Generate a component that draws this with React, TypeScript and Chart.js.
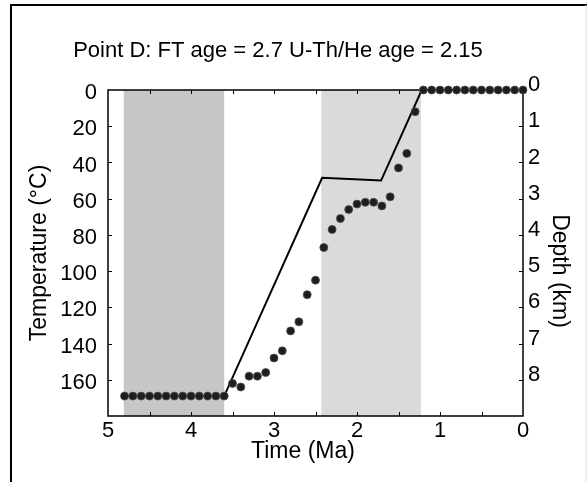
import { useEffect, useRef } from 'react';
import { Chart, registerables } from 'chart.js';

Chart.register(...registerables);

const TITLE = 'Point D: FT age = 2.7 U-Th/He age = 2.15';
const X_TITLE = 'Time (Ma)';
const Y_TITLE = 'Temperature (°C)';
const Y2_TITLE = 'Depth (km)';

// Modelled thermal history (dots)
const modelAgeMa = [
  4.8, 4.7, 4.6, 4.5, 4.4, 4.3, 4.2, 4.1, 4.0, 3.9, 3.8, 3.7, 3.6,
  3.5, 3.4, 3.3, 3.2, 3.1, 3.0, 2.9, 2.8, 2.7, 2.6, 2.5, 2.4, 2.3, 2.2, 2.1, 2.0,
  1.9, 1.8, 1.7, 1.6, 1.5, 1.4, 1.3,
  1.2, 1.1, 1.0, 0.9, 0.8, 0.7, 0.6, 0.5, 0.4, 0.3, 0.2, 0.1, 0.0,
];
const modelTempC = [
  169, 169, 169, 169, 169, 169, 169, 169, 169, 169, 169, 169, 169,
  162, 164, 158, 158, 156, 148, 144, 133, 128, 113, 105, 87, 77, 71, 66, 63,
  62, 62, 64, 59, 43, 35, 12,
  0, 0, 0, 0, 0, 0, 0, 0, 0, 0, 0, 0, 0,
];

// Burial / exhumation path (solid line)
const pathAgeMa = [4.8, 3.6, 2.42, 1.71, 1.22, 0];
const pathTempC = [169, 169, 48.5, 50, 0, 0];

// Shaded time windows
const bandStartMa = [4.81, 2.43];
const bandEndMa = [3.6, 1.23];
const bandColors = ['#c6c6c6', '#dadada'];

// Tick values
const xTickValues = [0, 0.5, 1, 1.5, 2, 2.5, 3, 3.5, 4, 4.5, 5];
const tempTickValues = [0, 20, 40, 60, 80, 100, 120, 140, 160];
const depthTickValues = [0, 1, 2, 3, 4, 5, 6, 7, 8];

const FONT = '"Liberation Sans", Arial, sans-serif';

const decorPlugin = {
  id: 'decor',
  beforeDraw(chart: any) {
    const { ctx, width, height } = chart;
    ctx.save();
    ctx.fillStyle = '#ffffff';
    ctx.fillRect(0, 0, width, height);
    ctx.strokeStyle = '#000';
    ctx.lineWidth = 2;
    ctx.beginPath();
    ctx.moveTo(11, height);
    ctx.lineTo(11, 5);
    ctx.lineTo(width, 5);
    ctx.stroke();
    ctx.strokeStyle = '#dddddd';
    ctx.lineWidth = 1;
    ctx.beginPath();
    ctx.moveTo(586, 5);
    ctx.lineTo(586, height);
    ctx.stroke();
    ctx.restore();
  },
  beforeDatasetsDraw(chart: any) {
    const { ctx, chartArea: a, scales } = chart;
    const x = scales.x;
    const y = scales.y;
    const y2 = scales.y2;
    ctx.save();
    for (let i = 0; i < bandStartMa.length; i++) {
      const p1 = x.getPixelForValue(bandStartMa[i]);
      const p2 = x.getPixelForValue(bandEndMa[i]);
      ctx.fillStyle = bandColors[i];
      ctx.fillRect(Math.min(p1, p2), a.top, Math.abs(p2 - p1), a.bottom - a.top);
    }
    ctx.strokeStyle = '#000';
    ctx.lineWidth = 1.5;
    ctx.strokeRect(a.left, a.top, a.right - a.left, a.bottom - a.top);
    ctx.lineWidth = 1;
    ctx.beginPath();
    const tl = 4;
    for (const v of xTickValues) {
      if (v === 0 || v === 5) continue;
      const px = Math.round(x.getPixelForValue(v)) + 0.5;
      ctx.moveTo(px, a.bottom);
      ctx.lineTo(px, a.bottom - tl);
      ctx.moveTo(px, a.top);
      ctx.lineTo(px, a.top + tl);
    }
    for (const v of tempTickValues) {
      if (v === 0) continue;
      const py = Math.round(y.getPixelForValue(v)) + 0.5;
      ctx.moveTo(a.left, py);
      ctx.lineTo(a.left + tl, py);
    }
    for (const v of depthTickValues) {
      if (v === 0) continue;
      const py = Math.round(y2.getPixelForValue(v)) + 0.5;
      ctx.moveTo(a.right, py);
      ctx.lineTo(a.right - tl, py);
    }
    ctx.stroke();
    ctx.restore();
  },
  afterDraw(chart: any) {
    const { ctx } = chart;
    ctx.save();
    ctx.fillStyle = '#000';
    ctx.font = '22px ' + FONT;
    ctx.textAlign = 'center';
    ctx.textBaseline = 'alphabetic';
    ctx.fillText(TITLE, 278, 57);

    ctx.font = '23px ' + FONT;
    ctx.textBaseline = 'middle';
    ctx.fillText(X_TITLE, 303, 452);

    ctx.translate(559, 271);
    ctx.rotate(Math.PI / 2);
    ctx.fillText(Y2_TITLE, 0, 0);
    ctx.restore();
  },
};

export default function App() {
  const ref = useRef<HTMLCanvasElement | null>(null);

  useEffect(() => {
    if (!ref.current) return;
    const tickFont = { family: FONT, size: 22 };
    const titleFont = { family: FONT, size: 23, lineHeight: 1.2 };
    const chart = new Chart(ref.current, {
      type: 'line',
      data: {
        datasets: [
          {
            type: 'line',
            label: 'model',
            data: modelAgeMa.map((a, i) => ({ x: a, y: modelTempC[i] })),
            showLine: false,
            pointRadius: 4,
            pointBackgroundColor: '#1e1e1e',
            pointBorderColor: '#505050',
            pointBorderWidth: 0.8,
            yAxisID: 'y',
            clip: false,
          },
          {
            type: 'line',
            label: 'path',
            data: pathAgeMa.map((a, i) => ({ x: a, y: pathTempC[i] })),
            borderColor: '#000',
            borderWidth: 2,
            pointRadius: 0,
            tension: 0,
            fill: false,
            yAxisID: 'y',
            clip: false,
          },
        ],
      },
      options: {
        responsive: false,
        animation: false,
        events: [],
        layout: { padding: { top: 90, left: 0, right: 0, bottom: 0 } },
        plugins: {
          legend: { display: false },
          tooltip: { enabled: false },
          title: { display: false },
        },
        scales: {
          x: {
            type: 'linear',
            position: 'bottom',
            min: 0,
            max: 5,
            reverse: true,
            grid: { display: false, drawTicks: false },
            border: { display: false },
            ticks: {
              stepSize: 1,
              autoSkip: false,
              maxRotation: 0,
              padding: 2,
              color: '#000',
              font: tickFont,
              callback: (v: any) => String(v),
            },
            title: { display: false, text: X_TITLE },
            afterFit: (s: any) => {
              s.height = 66;
            },
          },
          y: {
            type: 'linear',
            position: 'left',
            min: 0,
            max: 180,
            reverse: true,
            grid: { display: false, drawTicks: false },
            border: { display: false },
            ticks: {
              stepSize: 20,
              autoSkip: false,
              padding: 11,
              labelOffset: 3,
              color: '#000',
              font: tickFont,
              callback: (v: any) => (tempTickValues.includes(Number(v)) ? String(v) : ''),
            },
            title: {
              display: true,
              text: Y_TITLE,
              color: '#000',
              font: titleFont,
              padding: { top: 26, bottom: 0 },
            },
            afterFit: (s: any) => {
              s.width = 108;
            },
          },
          y2: {
            type: 'linear',
            position: 'right',
            min: 0,
            max: 9,
            reverse: true,
            grid: { display: false, drawTicks: false },
            border: { display: false },
            ticks: {
              stepSize: 1,
              autoSkip: false,
              padding: 5,
              labelOffset: -5,
              color: '#000',
              font: tickFont,
              callback: (v: any) => (depthTickValues.includes(Number(v)) ? String(v) : ''),
            },
            title: { display: false, text: Y2_TITLE },
            afterFit: (s: any) => {
              s.width = 64;
            },
          },
        },
      } as any,
      plugins: [decorPlugin],
    });
    return () => chart.destroy();
  }, []);

  return (
    <div style={{ position: 'absolute', left: 0, top: 0, width: 587, height: 482 }}>
      <canvas ref={ref} width={587} height={482} style={{ display: 'block', width: 587, height: 482 }} />
    </div>
  );
}
